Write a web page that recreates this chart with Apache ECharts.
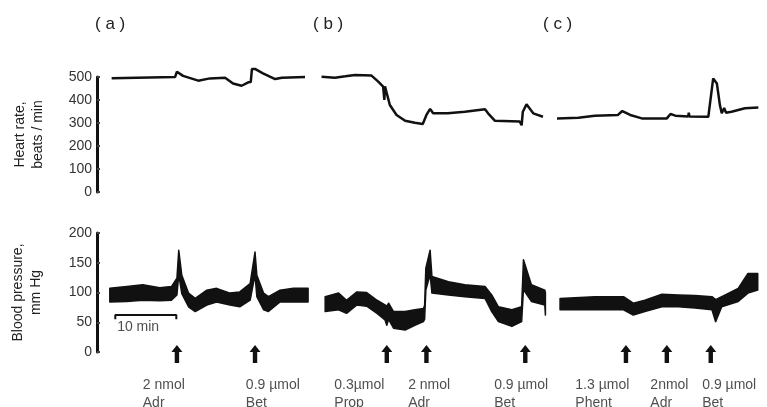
<!DOCTYPE html>
<html>
<head>
<meta charset="utf-8">
<style>
  html, body { margin: 0; padding: 0; background: #fff; }
  #chart { width: 767px; height: 407px; }
</style>
<script src="https://cdn.jsdelivr.net/npm/echarts@6/dist/echarts.min.js"></script>
</head>
<body>
<div id="chart"></div>
<script>
// time in minutes from start of record; 3 experiments (a) (b) (c)
// heart rate, beats/min: [t, rate]
const hrA = [
  [2.4, 495], [12.8, 500], [13.1, 523], [14.1, 505], [16.6, 484], [18.5, 494],
  [21.0, 497], [22.3, 472], [23.7, 462], [24.8, 477], [25.2, 478], [25.4, 535],
  [25.9, 535], [27.2, 516], [29.2, 491], [30.3, 497], [34.1, 500]
];
const hrB = [
  [36.8, 501], [39.0, 497], [40.7, 503], [42.3, 509], [45.0, 506], [46.1, 480],
  [46.9, 458], [47.1, 400], [47.2, 460], [47.5, 465], [48.0, 378], [49.1, 335],
  [50.5, 310], [52.1, 301], [53.4, 296], [54.0, 335], [54.6, 361], [55.1, 342],
  [57.5, 342], [60.3, 349], [63.6, 360], [64.1, 342], [65.2, 310], [69.3, 306],
  [69.6, 290], [69.8, 349], [70.4, 381], [71.5, 342], [73.1, 327]
];
const hrC = [
  [75.4, 320], [78.9, 323], [81.6, 332], [85.4, 335], [86.1, 352], [87.4, 335],
  [89.3, 320], [93.4, 320], [94.0, 339], [94.8, 332], [96.9, 328], [97.0, 345],
  [97.1, 328], [100.2, 327], [100.5, 322], [101.0, 494], [101.6, 472], [102.1, 378],
  [102.4, 342], [102.8, 365], [103.1, 345], [104.0, 349], [106.2, 364], [108.4, 367]
];

// blood pressure, mm Hg: [t, diastolic, systolic]
const bpA = [
  [2.1, 84, 107], [4.9, 85, 110], [7.5, 87, 113], [10.3, 86, 108], [12.2, 87, 110],
  [13.1, 96, 124], [13.4, 130, 171], [13.9, 98, 129], [15.0, 76, 99], [16.1, 68, 90],
  [18.0, 79, 104], [19.6, 84, 107], [21.8, 79, 99], [23.4, 76, 101], [25.1, 87, 115],
  [25.9, 130, 168], [26.2, 93, 129], [27.3, 71, 99], [28.1, 68, 93], [30.0, 84, 104],
  [32.2, 84, 107], [34.6, 84, 107]
];
const bpB = [
  [37.4, 68, 93], [39.6, 71, 99], [40.9, 65, 87], [42.6, 79, 101], [44.2, 77, 100],
  [45.9, 65, 87], [47.2, 54, 79], [47.5, 45, 77], [47.8, 55, 82], [48.6, 40, 68],
  [50.5, 37, 68], [52.1, 45, 71], [53.5, 51, 73], [53.7, 55, 78], [53.9, 104, 141],
  [54.6, 130, 171], [54.9, 99, 127], [57.6, 96, 118], [60.3, 93, 113], [63.6, 90, 110],
  [64.7, 68, 96], [65.8, 51, 76], [68.0, 43, 71], [69.6, 51, 76], [69.9, 105, 155],
  [71.2, 85, 113], [73.4, 79, 104], [73.5, 62, 100]
];
const bpC = [
  [75.9, 71, 90], [81.6, 71, 93], [86.3, 71, 93], [87.9, 62, 82], [89.8, 68, 87],
  [92.6, 76, 97], [95.3, 76, 96], [98.0, 74, 95], [100.8, 71, 93], [101.4, 51, 88],
  [102.4, 76, 93], [105.1, 85, 107], [106.7, 99, 132], [108.3, 104, 132]
];

const hrTicks = [0, 100, 200, 300, 400, 500];
const bpTicks = [0, 50, 100, 150, 200];

// injections: arrow time, label start time, label text
const arrowTimes = [13.1, 25.9, 47.5, 54.0, 70.2, 86.7, 93.4, 100.6];
const doseTimes = [7.5, 24.4, 38.9, 51.0, 65.1, 78.4, 90.7, 99.2];
const doseLabels = [
  '2 nmol\nAdr', '0.9 µmol\nBet', '0.3µmol\nProp', '2 nmol\nAdr',
  '0.9 µmol\nBet', '1.3 µmol\nPhent', '2nmol\nAdr', '0.9 µmol\nBet'
];
const panelLabels = ['( a )', '( b )', '( c )'];

const scaleBar = [[3.0, 55], [3.0, 62], [13.0, 62], [13.0, 55]];

const ink = '#111';
const font = 'Liberation Sans';
const T_MAX = 109;

const chart = echarts.init(document.getElementById('chart'));

function hrSeries(data) {
  return {
    type: 'line', xAxisIndex: 0, yAxisIndex: 0, data: data, clip: false,
    symbol: 'none', lineStyle: { color: ink, width: 2.5 }, z: 3
  };
}

// pulse band between diastolic and systolic, one polygon per segment
function bpSeries(data) {
  return {
    type: 'custom', xAxisIndex: 1, yAxisIndex: 1, data: data,
    encode: { x: 0, y: [1, 2] },
    renderItem: (params, api) => {
      if (params.dataIndex !== 0) return null;
      const top = data.map(d => api.coord([d[0], d[2]]));
      const bottom = data.map(d => api.coord([d[0], d[1]])).reverse();
      return {
        type: 'polygon',
        shape: { points: top.concat(bottom) },
        style: { fill: ink, stroke: ink, lineWidth: 1.5, lineJoin: 'round' }
      };
    }
  };
}

function yAxis(grid, max, ticks, name, gap) {
  return {
    type: 'value', gridIndex: grid, min: 0, max: max, interval: ticks[1] - ticks[0],
    name: name, nameLocation: 'middle', nameRotate: 90, nameGap: gap,
    nameTextStyle: { fontFamily: font, fontSize: 14, color: '#222', lineHeight: 18 },
    axisLine: { show: true, lineStyle: { color: ink, width: 3 } },
    axisTick: { show: true, inside: true, length: 3, lineStyle: { color: '#444', width: 2 } },
    axisLabel: { fontFamily: font, fontSize: 14, color: '#333', margin: 5 },
    splitLine: { show: false }
  };
}

const hiddenX = (grid) => ({ type: 'value', gridIndex: grid, min: 0, max: T_MAX, show: false });

const option = {
  animation: false,
  backgroundColor: '#fff',
  title: panelLabels.map((t, i) => ({
    text: t, left: [90, 308, 538][i], top: 11,
    textStyle: { fontFamily: font, fontSize: 17, fontWeight: 'normal', color: '#222' }
  })),
  grid: [
    { left: 97, right: 5, top: 77, height: 115 },
    { left: 97, right: 5, top: 233, height: 119 },
    { left: 97, right: 5, top: 340, height: 67 }
  ],
  xAxis: [hiddenX(0), hiddenX(1), hiddenX(2)],
  yAxis: [
    yAxis(0, 500, hrTicks, 'Heart rate,\nbeats / min', 50),
    yAxis(1, 200, bpTicks, 'Blood pressure,\nmm Hg', 52),
    { type: 'value', gridIndex: 2, min: 0, max: 67, inverse: true, show: false }
  ],
  series: [
    hrSeries(hrA), hrSeries(hrB), hrSeries(hrC),
    bpSeries(bpA), bpSeries(bpB), bpSeries(bpC),
    {
      // 10 min scale bar
      type: 'line', xAxisIndex: 1, yAxisIndex: 1, data: scaleBar,
      symbol: 'none', lineStyle: { color: ink, width: 2 }
    },
    {
      type: 'scatter', xAxisIndex: 1, yAxisIndex: 1, data: [[3.3, 42]],
      symbolSize: 0,
      label: { show: true, position: 'right', distance: 0, formatter: '10 min',
        fontFamily: font, fontSize: 14, color: '#222' }
    },
    {
      type: 'scatter', xAxisIndex: 2, yAxisIndex: 2,
      data: arrowTimes.map(t => [t, 14]),
      symbol: 'path://M5,0L10,7L7,7L7,18L3,18L3,7L0,7Z', symbolSize: [11, 18],
      itemStyle: { color: ink, opacity: 1 }
    },
    {
      type: 'scatter', xAxisIndex: 2, yAxisIndex: 2,
      data: doseTimes.map((t, i) => ({ value: [t, 54], name: doseLabels[i] })),
      symbolSize: 0,
      label: { show: true, position: 'right', distance: 0, formatter: p => p.name,
        fontFamily: font, fontSize: 14, lineHeight: 18, color: '#222' }
    }
  ]
};

chart.setOption(option);
</script>
</body>
</html>
